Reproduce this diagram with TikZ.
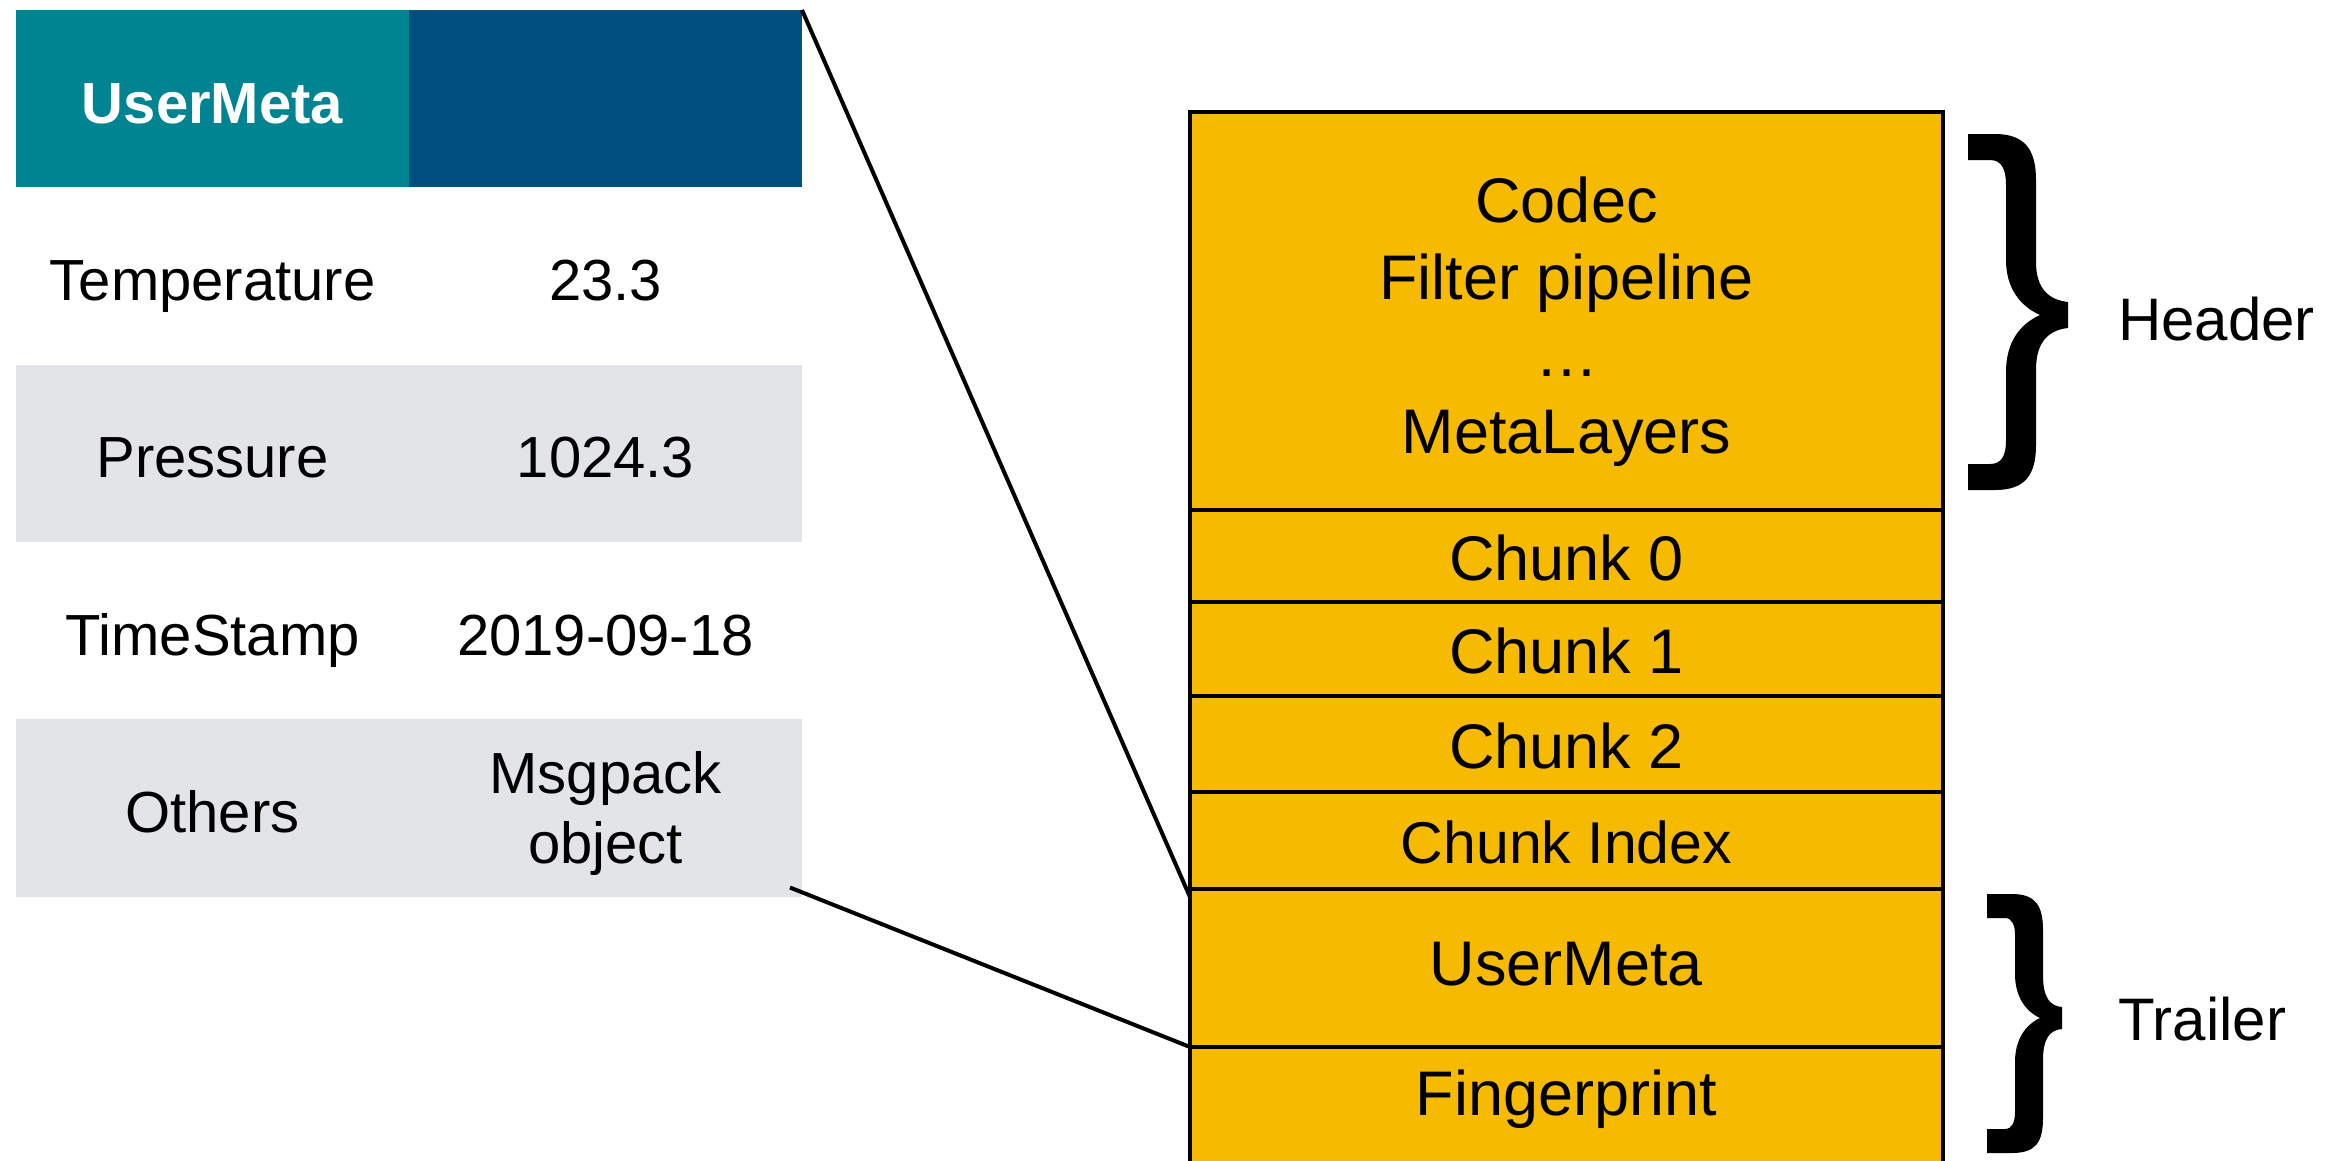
\documentclass[tikz,border=0pt]{standalone}
\usepackage{fontspec}
\setmainfont{Liberation Sans}
\usetikzlibrary{calc}
\definecolor{tealc}{RGB}{0,132,145}
\definecolor{bluec}{RGB}{0,79,127}
\definecolor{grayc}{RGB}{227,228,232}
\definecolor{goldc}{RGB}{246,187,0}
\begin{document}
\begin{tikzpicture}[x=1pt,y=-1pt,
  tcell/.style={anchor=north west, inner sep=0pt, outer sep=0pt,
    minimum width=393pt, minimum height=177.3pt, align=center,
    text height=49pt, text depth=0pt,
    font=\fontsize{58}{70}\selectfont},
  sbox/.style={anchor=north west, draw=black, line width=4.5pt, fill=goldc,
    inner sep=0pt, outer sep=0pt, minimum width=753pt, align=center,
    text height=49pt, text depth=0pt,
    font=\fontsize{63}{77}\selectfont},
  conn/.style={draw=black, line width=4pt},
  lbl/.style={anchor=base west, inner sep=0pt, font=\fontsize{60}{72}\selectfont}]
\clip (0,0) rectangle (2345,1160);
\fill[white] (0,0) rectangle (2345,1160);
% table
\node[tcell, fill=tealc, text=white, font=\fontsize{58}{70}\selectfont\bfseries] (h1) at (16,10) {UserMeta};
\node[tcell, fill=bluec] (h2) at (409,10) {};
\node[tcell] (t1) at (16,187.3) {Temperature};
\node[tcell] (t2) at (409,187.3) {23.3};
\node[tcell, fill=grayc] (p1) at (16,364.6) {Pressure};
\node[tcell, fill=grayc] (p2) at (409,364.6) {1024.3};
\node[tcell] (s1) at (16,541.9) {TimeStamp};
\node[tcell] (s2) at (409,541.9) {2019-09-18};
\node[tcell, fill=grayc] (o1) at (16,719.2) {Others};
\node[tcell, fill=grayc, text height=, text depth=] (o2) at (409,719.2)
  {\raisebox{-7pt}[\height][\depth]{\begin{tabular}{@{}c@{}}Msgpack\\object\end{tabular}}};
% stack
\node[sbox, minimum height=398pt, text height=, text depth=] (hd) at (1190,112)
  {\raisebox{-12pt}[\height][\depth]{\begin{tabular}{@{}c@{}}Codec\\Filter pipeline\\…\\MetaLayers\end{tabular}}};
\node[sbox, minimum height=92pt] (c0) at (1190,510) {Chunk 0};
\node[sbox, minimum height=94pt] (c1) at (1190,602) {Chunk 1};
\node[sbox, minimum height=96pt] (c2) at (1190,696) {Chunk 2};
\node[sbox, minimum height=97pt, text height=45pt, font=\fontsize{59}{72}\selectfont] (ci) at (1190,792) {Chunk Index};
\node[sbox, minimum height=158pt, text height=34pt] (um) at (1190,889) {UserMeta};
\node[sbox, minimum height=140pt, text height=0pt, text depth=4pt] (fp) at (1190,1047) {Fingerprint};
% connectors
\draw[conn] (h2.north east) -- ($(um.north west)+(0,8)$);
\draw[conn] ($(o2.south east)+(-12,-9)$) -- (um.south west);
% braces
\fill[black] (1968,134) -- (1995,134) .. controls (2025,134) and (2036,150) .. (2036,180)
  -- (2036,262) .. controls (2036,290) and (2050,300) .. (2068,302)
  -- (2068,328) .. controls (2050,330) and (2036,340) .. (2036,370)
  -- (2036,445) .. controls (2036,475) and (2025,490) .. (1995,490)
  -- (1968,490) -- (1968,464) -- (1990,464)
  .. controls (2002,464) and (2006,455) .. (2006,440)
  -- (2006,372) .. controls (2006,342) and (2020,324) .. (2040,315)
  .. controls (2020,306) and (2006,288) .. (2006,260)
  -- (2006,185) .. controls (2006,170) and (2002,160) .. (1990,160)
  -- (1968,160) -- cycle;
\fill[black] (1987,894) -- (2012,894) .. controls (2035,894) and (2043,905) .. (2043,930)
  -- (2043,975) .. controls (2043,998) and (2050,1006) .. (2062,1007)
  -- (2062,1029) .. controls (2050,1030) and (2043,1038) .. (2043,1060)
  -- (2043,1118) .. controls (2043,1143) and (2035,1153) .. (2012,1153)
  -- (1987,1153) -- (1987,1129) -- (2005,1129)
  .. controls (2012,1129) and (2015,1122) .. (2015,1112)
  -- (2015,1062) .. controls (2015,1040) and (2025,1025) .. (2040,1018)
  .. controls (2025,1011) and (2015,996) .. (2015,974)
  -- (2015,935) .. controls (2015,925) and (2012,918) .. (2005,918)
  -- (1987,918) -- cycle;
\node[lbl] (hl) at (2118,340) {Header};
\node[lbl] (tl) at (2118,1040) {Trailer};
\end{tikzpicture}
\end{document}
